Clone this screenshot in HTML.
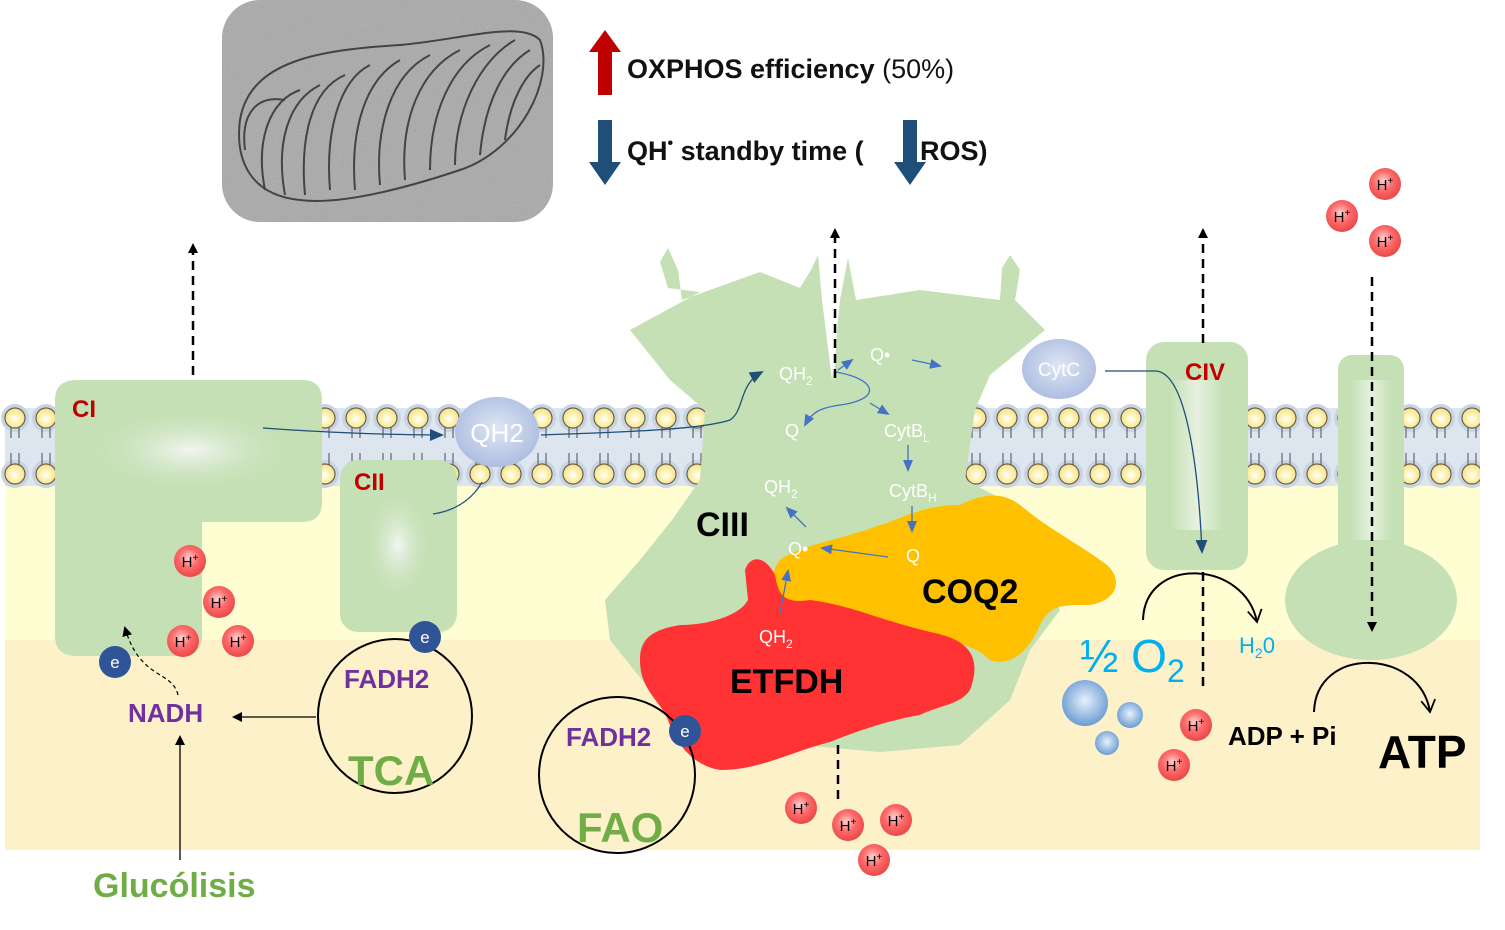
<!DOCTYPE html>
<html><head><meta charset="utf-8"><style>
html,body{margin:0;padding:0;background:#fff;width:1505px;height:930px;overflow:hidden}
svg{display:block}
text{font-family:"Liberation Sans",Arial,sans-serif}
</style></head><body>
<svg width="1505" height="930" viewBox="0 0 1505 930" xmlns="http://www.w3.org/2000/svg">
<defs>
<pattern id="mem" x="0" y="390" width="31" height="100" patternUnits="userSpaceOnUse">
 <circle cx="15" cy="28" r="14" fill="#c8d4e4"/>
 <circle cx="15" cy="84" r="14" fill="#c8d4e4"/>
 <line x1="11" y1="28" x2="11" y2="48" stroke="#6a6f7a" stroke-width="1.3"/>
 <line x1="19" y1="28" x2="19" y2="48" stroke="#6a6f7a" stroke-width="1.3"/>
 <line x1="11" y1="63" x2="11" y2="84" stroke="#6a6f7a" stroke-width="1.3"/>
 <line x1="19" y1="63" x2="19" y2="84" stroke="#6a6f7a" stroke-width="1.3"/>
 <circle cx="15" cy="28" r="10" fill="url(#head)" stroke="#6b6040" stroke-width="1.2"/>
 <circle cx="15" cy="84" r="10" fill="url(#head)" stroke="#6b6040" stroke-width="1.2"/>
</pattern>
<radialGradient id="head" cx="0.5" cy="0.55" r="0.6"><stop offset="0" stop-color="#ffffff"/><stop offset="0.35" stop-color="#fff6c0"/><stop offset="1" stop-color="#f2dc80"/></radialGradient>
<radialGradient id="hp" cx="0.45" cy="0.4" r="0.6"><stop offset="0" stop-color="#ffd0d0"/><stop offset="0.5" stop-color="#ff6a6a"/><stop offset="1" stop-color="#e84848"/></radialGradient>
<radialGradient id="bq" cx="0.5" cy="0.45" r="0.6"><stop offset="0" stop-color="#dfe6f4"/><stop offset="1" stop-color="#a9badf"/></radialGradient>
<radialGradient id="bub" cx="0.5" cy="0.45" r="0.6"><stop offset="0" stop-color="#e8f1fb"/><stop offset="1" stop-color="#5f95d0"/></radialGradient>
<radialGradient id="glow" cx="0.5" cy="0.5" r="0.5"><stop offset="0" stop-color="#f2f6f2"/><stop offset="1" stop-color="#c5e0b4" stop-opacity="0"/></radialGradient>
<linearGradient id="vglow" x1="0" x2="1"><stop offset="0" stop-color="#c5e0b4"/><stop offset="0.5" stop-color="#eef5ea"/><stop offset="1" stop-color="#c5e0b4"/></linearGradient>
<marker id="ak" markerWidth="10" markerHeight="10" refX="8" refY="5" orient="auto" markerUnits="userSpaceOnUse"><path d="M0,0 L10,5 L0,10 Z" fill="#000"/></marker>
<marker id="ab" markerWidth="12" markerHeight="10" refX="10" refY="5" orient="auto" markerUnits="userSpaceOnUse"><path d="M0,0 L12,5 L0,10 Z" fill="#4472c4"/></marker>
<marker id="an" markerWidth="14" markerHeight="12" refX="12" refY="6" orient="auto" markerUnits="userSpaceOnUse"><path d="M0,0 L14,6 L0,12 Z" fill="#1f4e79"/></marker>
<marker id="ao" markerWidth="16" markerHeight="16" refX="13" refY="8" orient="auto" markerUnits="userSpaceOnUse"><path d="M1,1 L13,8 L1,15" fill="none" stroke="#000" stroke-width="1.8"/></marker>
<clipPath id="mcp"><rect x="222" y="0" width="331" height="222" rx="38"/></clipPath>
<filter id="grain" x="0" y="0" width="1" height="1"><feTurbulence type="fractalNoise" baseFrequency="0.9" numOctaves="2" seed="3"/><feColorMatrix type="saturate" values="0"/><feComponentTransfer><feFuncA type="table" tableValues="0 0.35"/></feComponentTransfer></filter>
</defs>

<!-- backgrounds -->
<rect x="5" y="485" width="1475" height="160" fill="#fffdd2"/>
<rect x="5" y="640" width="1475" height="210" fill="#fdf1c9"/>
<rect x="5" y="408" width="1475" height="78" fill="#dde5ef"/>
<rect x="0" y="400" width="1480" height="90" fill="url(#mem)"/>

<!-- micrograph -->
<g clip-path="url(#mcp)">
<rect x="222" y="0" width="331" height="222" fill="#a8a8a8"/>
<rect x="222" y="0" width="331" height="222" filter="url(#grain)"/>
</g>
<g fill="none" stroke="#2a2a2a" stroke-width="2" opacity="0.8">
<path d="M240,120 C250,60 320,50 400,45 C460,40 520,20 540,40 C555,80 520,150 460,170 C400,190 340,205 300,200 C250,195 235,160 240,120Z"/>
<path d="M265,190 C255,140 270,100 300,90"/><path d="M285,195 C275,140 290,100 320,85"/>
<path d="M305,195 C300,140 310,90 345,75"/><path d="M330,190 C325,130 340,80 370,65"/>
<path d="M355,190 C350,130 365,80 400,60"/><path d="M380,185 C375,130 390,75 430,55"/>
<path d="M405,180 C400,120 420,70 460,50"/><path d="M430,170 C430,115 450,65 490,45"/>
<path d="M455,165 C455,110 480,60 515,40"/><path d="M480,155 C485,100 505,65 530,50"/>
<path d="M505,140 C510,100 525,75 540,65"/>
<path d="M245,150 C240,110 260,95 285,100"/>
</g>

<!-- top arrows and text -->
<polygon points="598,95 612,95 612,52 621,52 605,30 589,52 598,52" fill="#c00000"/>
<polygon points="598,120 612,120 612,162 621,162 605,185 589,162 598,162" fill="#1f4e79"/>
<polygon points="903,120 917,120 917,162 926,162 910,185 894,162 903,162" fill="#1f4e79"/>
<text x="627" y="78" font-size="27" font-weight="bold" fill="#111">OXPHOS efficiency<tspan font-weight="normal"> (50%)</tspan></text>
<text x="627" y="160" font-size="27" font-weight="bold" fill="#111">QH<tspan font-size="16" dy="-12">•</tspan><tspan dy="12"> standby time (</tspan></text>
<text x="920" y="160" font-size="27" font-weight="bold" fill="#111">ROS)</text>

<!-- CIII -->
<path d="M630,330 L700,292 L668,288 L660,262 L668,248 L678,270 L682,300 L760,272 L800,288 L812,268 L818,255 L822,300 L832,380 L840,300 L848,258 L856,300 L920,290 L1000,300 L1002,268 L1010,255 L1020,270 L1015,300 L1045,330 L990,375 L975,410 L965,480 L1000,498 L1040,560 L1060,610 L1030,650 L1010,700 L960,745 L880,752 L800,745 L700,720 L650,690 L610,640 L605,600 L640,560 L672,520 L700,480 L705,410 L670,380 Z" fill="#c5e0b4"/>
<polygon points="825,250 834,382 842,250" fill="#fff"/>
<!-- COQ2 -->
<path d="M780,560 C800,545 840,540 880,525 C900,520 920,505 960,505 C980,495 1000,490 1020,505 C1050,530 1080,545 1100,560 C1125,575 1120,600 1090,605 C1060,605 1050,605 1040,625 C1030,650 1010,668 990,660 C970,640 940,640 900,640 C860,630 820,620 790,610 C770,600 768,575 780,560Z" fill="#ffc000"/>
<!-- ETFDH -->
<path d="M745,570 C750,555 765,555 775,575 C778,590 780,605 810,600 C850,605 880,620 930,632 C960,638 985,650 970,690 C960,705 940,705 920,715 C890,720 860,730 830,742 C790,752 760,770 720,770 C690,765 675,740 668,720 C660,700 640,690 640,660 C640,640 650,630 680,625 C710,625 740,615 748,600 Z" fill="#ff3333"/>

<!-- CI -->
<path d="M77,380 H302 Q322,380 322,400 V502 Q322,522 302,522 H202 V636 Q202,656 182,656 H77 Q55,656 55,636 V400 Q55,380 77,380Z" fill="#c5e0b4"/>
<ellipse cx="190" cy="450" rx="110" ry="45" fill="url(#glow)"/>
<!-- CII -->
<rect x="340" y="460" width="117" height="172" rx="18" fill="#c5e0b4"/>
<ellipse cx="398" cy="545" rx="35" ry="60" fill="url(#glow)"/>
<!-- CIV -->
<rect x="1146" y="342" width="102" height="228" rx="18" fill="#c5e0b4"/>
<rect x="1170" y="380" width="54" height="150" fill="url(#vglow)" opacity="0.8"/>
<!-- ATP synthase -->
<ellipse cx="1371" cy="600" rx="86" ry="60" fill="#c5e0b4"/>
<rect x="1338" y="355" width="66" height="215" rx="14" fill="#c5e0b4"/>
<rect x="1350" y="380" width="42" height="160" fill="url(#vglow)" opacity="0.8"/>

<!-- QH2 & CytC -->
<ellipse cx="497" cy="432" rx="42" ry="35" fill="url(#bq)"/>
<text x="497" y="442" font-size="26" fill="#fff" text-anchor="middle">QH2</text>
<ellipse cx="1059" cy="369" rx="37" ry="30" fill="url(#bq)"/>
<text x="1059" y="376" font-size="19" fill="#fff" text-anchor="middle">CytC</text>

<!-- labels -->
<text x="72" y="417" font-size="24" font-weight="bold" fill="#c00000">CI</text>
<text x="354" y="490" font-size="24" font-weight="bold" fill="#c00000">CII</text>
<text x="1185" y="380" font-size="24" font-weight="bold" fill="#c00000">CIV</text>
<text x="696" y="536" font-size="34" font-weight="bold" fill="#000">CIII</text>
<text x="922" y="603" font-size="34" font-weight="bold" fill="#000">COQ2</text>
<text x="730" y="693" font-size="34" font-weight="bold" fill="#000">ETFDH</text>

<!-- white labels in CIII -->
<g fill="#fff" font-size="18">
<text x="779" y="380">QH<tspan font-size="12" dy="5">2</tspan></text>
<text x="870" y="361">Q•</text>
<text x="785" y="437">Q</text>
<text x="884" y="437">CytB<tspan font-size="12" dy="5">L</tspan></text>
<text x="764" y="493">QH<tspan font-size="12" dy="5">2</tspan></text>
<text x="889" y="497">CytB<tspan font-size="12" dy="5">H</tspan></text>
<text x="788" y="555">Q•</text>
<text x="906" y="562">Q</text>
<text x="759" y="643">QH<tspan font-size="12" dy="5">2</tspan></text>
</g>
<!-- blue arrows -->
<g fill="none" stroke="#4472c4" stroke-width="1.3">
<path d="M838,370 L852,360" marker-end="url(#ab)"/>
<path d="M912,360 L940,366" marker-end="url(#ab)"/>
<path d="M836,372 C880,380 880,400 840,405 C820,408 812,412 805,425" marker-end="url(#ab)"/>
<path d="M870,403 L888,414" marker-end="url(#ab)"/>
<path d="M908,445 L908,470" marker-end="url(#ab)"/>
<path d="M806,527 L787,508" marker-end="url(#ab)"/>
<path d="M912,506 L912,531" marker-end="url(#ab)"/>
<path d="M888,557 L822,548" marker-end="url(#ab)"/>
<path d="M780,613 L788,571" marker-end="url(#ab)"/>
</g>
<!-- dark blue arrows -->
<g fill="none" stroke="#1f4e79" stroke-width="1.3">
<path d="M263,428 C330,433 400,435 442,435" marker-end="url(#an)"/>
<path d="M541,435 C620,432 700,430 730,420 C745,410 738,385 762,372" marker-end="url(#an)"/>
<path d="M433,514 C460,510 475,495 482,482"/>
<path d="M1105,371 H1155 C1185,371 1198,460 1202,552" marker-end="url(#an)"/>
</g>

<!-- dashed black -->
<g stroke="#000" stroke-width="2.5" stroke-dasharray="9,6" fill="none">
<path d="M193,375 V245" marker-end="url(#ak)"/>
<path d="M835,378 V230" marker-end="url(#ak)"/>
<path d="M1203,343 V230" marker-end="url(#ak)"/>
<path d="M1203,572 V690"/>
<path d="M1372,277 V630" marker-end="url(#ak)"/>
<path d="M838,745 V800"/>
</g>
<path d="M178,695 C172,670 140,680 125,628" fill="none" stroke="#000" stroke-width="1.2" stroke-dasharray="4,3" marker-end="url(#ak)"/>

<!-- reaction curves -->
<path d="M1143,620 C1145,555 1245,560 1257,622" fill="none" stroke="#000" stroke-width="2" marker-end="url(#ao)"/>
<path d="M1314,712 C1316,645 1420,648 1430,712" fill="none" stroke="#000" stroke-width="2" marker-end="url(#ao)"/>

<!-- TCA / FAO circles -->
<circle cx="395" cy="716" r="77" fill="none" stroke="#000" stroke-width="2"/>
<circle cx="617" cy="775" r="78" fill="none" stroke="#000" stroke-width="2"/>
<text x="344" y="688" font-size="26" font-weight="bold" fill="#7030a0">FADH2</text>
<text x="348" y="785" font-size="42" font-weight="bold" fill="#70ad47">TCA</text>
<text x="566" y="746" font-size="26" font-weight="bold" fill="#7030a0">FADH2</text>
<text x="577" y="842" font-size="42" font-weight="bold" fill="#70ad47">FAO</text>
<text x="128" y="722" font-size="26" font-weight="bold" fill="#7030a0">NADH</text>
<text x="93" y="897" font-size="34" font-weight="bold" fill="#70ad47">Glucólisis</text>
<path d="M316,717 H234" stroke="#000" stroke-width="1.3" marker-end="url(#ak)"/>
<path d="M180,860 V737" stroke="#000" stroke-width="1.3" marker-end="url(#ak)"/>

<!-- O2 etc -->
<text x="1080" y="672" font-size="46" fill="#00b0f0">½ O<tspan font-size="32" dy="10">2</tspan></text>
<text x="1239" y="653" font-size="22" fill="#00b0f0">H<tspan font-size="14" dy="5">2</tspan><tspan dy="-5">0</tspan></text>
<circle cx="1085" cy="703" r="23" fill="url(#bub)"/>
<circle cx="1130" cy="715" r="13" fill="url(#bub)"/>
<circle cx="1107" cy="743" r="12" fill="url(#bub)"/>
<text x="1228" y="745" font-size="26" font-weight="bold" fill="#000">ADP + Pi</text>
<text x="1378" y="768" font-size="46" font-weight="bold" fill="#000">ATP</text>

<!-- e circles -->
<g font-size="17" fill="#fff" text-anchor="middle">
<circle cx="115" cy="662" r="16" fill="#2f5597"/><text x="115" y="668">e</text>
<circle cx="425" cy="637" r="16" fill="#2f5597"/><text x="425" y="643">e</text>
<circle cx="685" cy="731" r="16" fill="#2f5597"/><text x="685" y="737">e</text>
</g>

<!-- H+ -->
<g font-size="15" fill="#000" text-anchor="middle">
<g transform="translate(190,561)"><circle r="16" fill="url(#hp)"/><text y="6">H<tspan font-size="10" dy="-6">+</tspan></text></g>
<g transform="translate(219,602)"><circle r="16" fill="url(#hp)"/><text y="6">H<tspan font-size="10" dy="-6">+</tspan></text></g>
<g transform="translate(183,641)"><circle r="16" fill="url(#hp)"/><text y="6">H<tspan font-size="10" dy="-6">+</tspan></text></g>
<g transform="translate(238,641)"><circle r="16" fill="url(#hp)"/><text y="6">H<tspan font-size="10" dy="-6">+</tspan></text></g>
<g transform="translate(1385,184)"><circle r="16" fill="url(#hp)"/><text y="6">H<tspan font-size="10" dy="-6">+</tspan></text></g>
<g transform="translate(1342,216)"><circle r="16" fill="url(#hp)"/><text y="6">H<tspan font-size="10" dy="-6">+</tspan></text></g>
<g transform="translate(1385,241)"><circle r="16" fill="url(#hp)"/><text y="6">H<tspan font-size="10" dy="-6">+</tspan></text></g>
<g transform="translate(1196,725)"><circle r="16" fill="url(#hp)"/><text y="6">H<tspan font-size="10" dy="-6">+</tspan></text></g>
<g transform="translate(1174,765)"><circle r="16" fill="url(#hp)"/><text y="6">H<tspan font-size="10" dy="-6">+</tspan></text></g>
<g transform="translate(801,808)"><circle r="16" fill="url(#hp)"/><text y="6">H<tspan font-size="10" dy="-6">+</tspan></text></g>
<g transform="translate(848,825)"><circle r="16" fill="url(#hp)"/><text y="6">H<tspan font-size="10" dy="-6">+</tspan></text></g>
<g transform="translate(896,820)"><circle r="16" fill="url(#hp)"/><text y="6">H<tspan font-size="10" dy="-6">+</tspan></text></g>
<g transform="translate(874,860)"><circle r="16" fill="url(#hp)"/><text y="6">H<tspan font-size="10" dy="-6">+</tspan></text></g>
</g>
</svg>
</body></html>
